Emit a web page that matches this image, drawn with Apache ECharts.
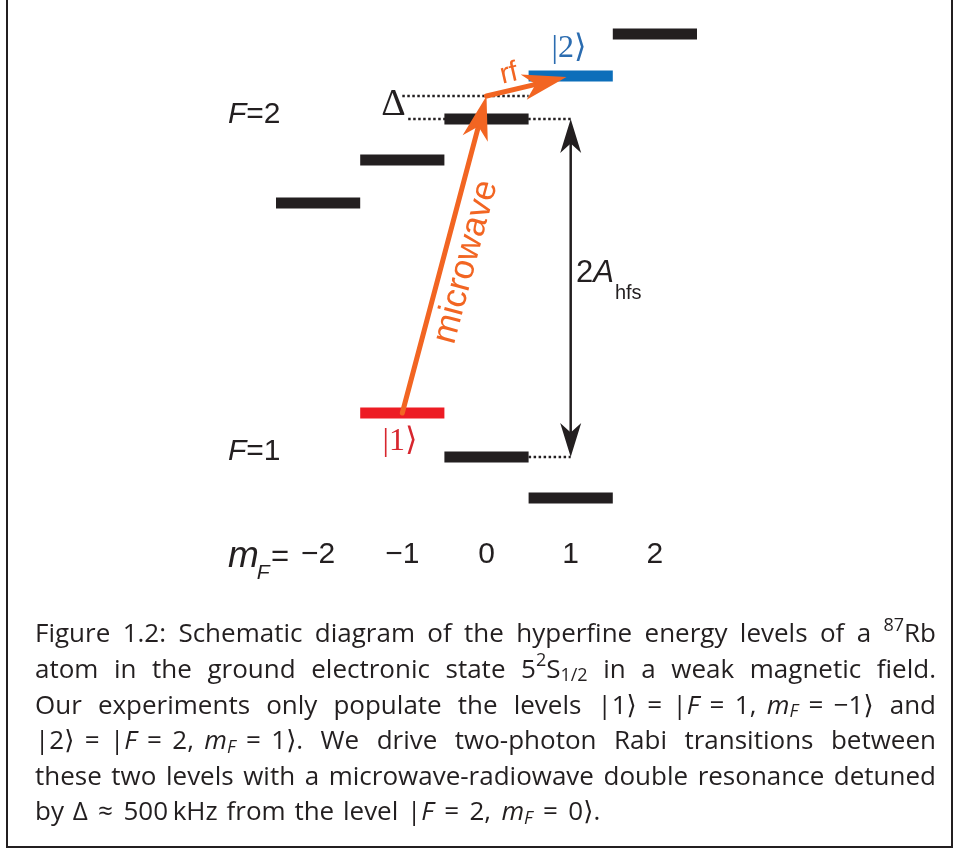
<!DOCTYPE html>
<html>
<head>
<meta charset="utf-8">
<script src="https://cdn.jsdelivr.net/npm/echarts@6/dist/echarts.min.js"></script>
<style>
  html, body { margin: 0; padding: 0; background: #fff; }
  #main { width: 960px; height: 852px; }
</style>
</head>
<body>
<div id="main"></div>
<script>
// m_F values (x axis ticks)
var mFValues = [-2, -1, 0, 1, 2]
// F=2 sublevel energies (arb. units), mF = -2..2
var f2Energy = [63.4, 72.0, 80.2, 88.8, 97.2]
// F=1 sublevels
var f1mF = [-1, 0, 1]
var f1Energy = [21.4, 12.6, 4.4]
// virtual level of the two-photon transition (Δ above F=2, mF=0)
var virtualLevel = 84.8
var state1 = [-1, 21.4] // |1> = |F=1, mF=-1>
var state2 = [1, 88.8]  // |2> = |F=2, mF=1>
var rfEnd = [0.95, 88.6]

// dotted guide lines [x1, y1, x2, y2]
var dottedData = [
  [-1, virtualLevel, 0.5, virtualLevel],
  [-0.93, f2Energy[2], 1, f2Energy[2]],
  [0.5, f1Energy[1], 1, f1Energy[1]]
]
// arrows [x1, y1, x2, y2, style, double-headed]
var arrowData = [
  [state1[0], state1[1], 0, virtualLevel, 0, 0],        // microwave
  [0, virtualLevel, rfEnd[0], rfEnd[1], 0, 0],          // rf
  [1, f2Energy[2], 1, f1Energy[1], 1, 1]                // 2A_hfs
]

var captionLines = [
  'Figure 1.2: Schematic diagram of the hyperfine energy levels of a {sup:87}Rb',
  'atom in the ground electronic state 5{sup:2}S{sub:1/2} in a weak magnetic field.',
  'Our experiments only populate the levels |1⟩~=~|{i:F}~=~1,~{i:m}{isub:F}~=~−1⟩ and',
  '|2⟩~=~|{i:F}~=~2,~{i:m}{isub:F}~=~1⟩.  We drive two-photon Rabi transitions between',
  'these two levels with a microwave-radiowave double resonance detuned',
  'by Δ~≈~500`kHz from the level |{i:F}~=~2,~{i:m}{isub:F}~=~0⟩.'
]

var levelColors = ['#231F20', '#ED1C24', '#0C6EBA']
var orange = '#F26522'
var levelData = []
mFValues.forEach(function (m, i) { levelData.push([m, f2Energy[i], m === state2[0] ? 2 : 0]) })
f1mF.forEach(function (m, i) { levelData.push([m, f1Energy[i], m === state1[0] ? 1 : 0]) })

var arrowStyles = [
  { color: orange, width: 5, L: 44, W: 13 },
  { color: '#231F20', width: 2.5, L: 34, W: 10.5 }
]

var sansFam = "'Liberation Sans', Arial, sans-serif"
var serifFam = "'Liberation Serif', 'DejaVu Serif', serif"
var capFam = "'Open Sans', 'DejaVu Sans', sans-serif"

// ---- text helpers (segments with sub/superscripts)
var ctx = document.createElement('canvas').getContext('2d')
var kinds = {
  n: { s: 1, dy: 0 },
  i: { s: 1, dy: 0, it: true },
  sup: { s: 0.68, dy: -0.36 },
  sub: { s: 0.68, dy: 0.22 },
  isub: { s: 0.68, dy: 0.22, it: true },
  low: { s: 0.7, dy: 0.55, it: true },
  hfs: { s: 0.68, dy: 0.7 }
}
function fontOf(size, italic, family) {
  return (italic ? 'italic ' : '') + size + 'px ' + family
}
function parseWord(w) {
  var segs = [], re = /\{(\w+):([^}]*)\}|([^{]+)/g, m
  while ((m = re.exec(w))) {
    if (m[1]) segs.push([m[2], m[1]])
    else m[3].split(/([~`])/).forEach(function (t) {
      if (t === '~') segs.push(['', 'gap'])
      else if (t === '`') segs.push(['', 'thin'])
      else if (t) segs.push([t, 'n'])
    })
  }
  return segs
}
function segWidth(seg, size, family) {
  if (seg[1] === 'gap') return size * 0.4
  if (seg[1] === 'thin') return size * 0.18
  var k = kinds[seg[1]]
  ctx.font = fontOf(Math.round(size * k.s), k.it, family)
  return ctx.measureText(seg[0]).width
}
function segsWidth(segs, size, family) {
  return segs.reduce(function (s, g) { return s + segWidth(g, size, family) }, 0)
}
function placeSegs(out, segs, x, y, size, family, color) {
  segs.forEach(function (seg) {
    var w = segWidth(seg, size, family)
    if (kinds[seg[1]]) {
      var k = kinds[seg[1]]
      out.push({
        type: 'text', x: x, y: y + k.dy * size, silent: true,
        style: { text: seg[0], font: fontOf(Math.round(size * k.s), k.it, family), fill: color, align: 'left', verticalAlign: 'middle' }
      })
    }
    x += w
  })
  return x
}

var graphics = []
// frame
graphics.push({ type: 'rect', silent: true, shape: { x: 7, y: -10, width: 945, height: 857 }, style: { fill: 'none', stroke: '#231F20', lineWidth: 2 } })

// caption, justified
var capLeft = 35, capRight = 936, capSize = 26
captionLines.forEach(function (line, li) {
  var words = line.split(' ').filter(function (w) { return w.length }).map(parseWord)
  var widths = words.map(function (s) { return segsWidth(s, capSize, capFam) })
  var total = widths.reduce(function (a, b) { return a + b }, 0)
  ctx.font = fontOf(capSize, false, capFam)
  var space = ctx.measureText(' ').width
  var gap = li === captionLines.length - 1 ? space * 1.3 : (capRight - capLeft - total) / (words.length - 1)
  var size = capSize
  if (gap < space * 0.9) {
    // too long: shrink slightly to fit
    size = capSize * (capRight - capLeft - space * 0.9 * (words.length - 1)) / total
    widths = words.map(function (s) { return segsWidth(s, size, capFam) })
    total = widths.reduce(function (a, b) { return a + b }, 0)
    gap = (capRight - capLeft - total) / (words.length - 1)
  }
  var x = capLeft, y = 635 + li * 35.6
  words.forEach(function (s, wi) {
    placeSegs(graphics, s, x, y, size, capFam, '#231F20')
    x += widths[wi] + gap
  })
})

// diagram labels
placeSegs(graphics, parseWord('{i:F}=2'), 228, 115, 30, sansFam, '#231F20')
placeSegs(graphics, parseWord('{i:F}=1'), 228, 452, 30, sansFam, '#231F20')
var afterM = placeSegs(graphics, parseWord('{i:m}'), 228, 557, 37, sansFam, '#231F20')
placeSegs(graphics, parseWord('{low:F}'), afterM - 2, 557, 30, sansFam, '#231F20')
var eqSeg = parseWord('=')
placeSegs(graphics, eqSeg, 289 - segsWidth(eqSeg, 31, sansFam), 557, 31, sansFam, '#231F20')
var afterA = placeSegs(graphics, parseWord('2{i:A}'), 576, 273, 31, sansFam, '#231F20')
placeSegs(graphics, parseWord('{hfs:hfs}'), afterA + 1, 273, 29, sansFam, '#231F20')

graphics.push({ type: 'text', x: 393.5, y: 105, silent: true, style: { text: 'Δ', font: fontOf(38, false, serifFam), fill: '#231F20', align: 'center', verticalAlign: 'middle' } })
graphics.push({ type: 'text', x: 569, y: 49, silent: true, style: { text: '|2⟩', font: fontOf(32, false, serifFam), fill: '#2B6CB0', align: 'center', verticalAlign: 'middle' } })
graphics.push({ type: 'text', x: 400, y: 442, silent: true, style: { text: '|1⟩', font: fontOf(32, false, serifFam), fill: '#D7262E', align: 'center', verticalAlign: 'middle' } })
graphics.push({ type: 'text', x: 509, y: 74, rotation: 13 * Math.PI / 180, silent: true, style: { text: 'rf', font: fontOf(29, false, sansFam), fill: orange, align: 'center', verticalAlign: 'middle' } })
graphics.push({ type: 'text', x: 466, y: 262, rotation: 75 * Math.PI / 180, silent: true, style: { text: 'microwave', font: fontOf(35, false, sansFam), fill: orange, align: 'center', verticalAlign: 'middle' } })

// ---- series renderers
function renderLevel(params, api) {
  var a = api.coord([api.value(0) - 0.5, api.value(1)])
  var b = api.coord([api.value(0) + 0.5, api.value(1)])
  return { type: 'rect', shape: { x: a[0], y: a[1] - 5.5, width: b[0] - a[0], height: 11 }, style: { fill: levelColors[api.value(2)] } }
}
function renderDotted(params, api) {
  var a = api.coord([api.value(0), api.value(1)])
  var b = api.coord([api.value(2), api.value(3)])
  return { type: 'line', shape: { x1: a[0], y1: a[1], x2: b[0], y2: b[1] }, style: { stroke: '#231F20', lineWidth: 2.5, lineDash: [2.5, 2.5] } }
}
function head(tip, u, L, W) {
  var nx = -u[1], ny = u[0]
  var bx = tip[0] - u[0] * L, by = tip[1] - u[1] * L
  var kx = tip[0] - u[0] * L * 0.72, ky = tip[1] - u[1] * L * 0.72
  return { pts: [[tip[0], tip[1]], [bx + nx * W, by + ny * W], [kx, ky], [bx - nx * W, by - ny * W]], notch: [kx, ky] }
}
function renderArrow(params, api) {
  var a = api.coord([api.value(0), api.value(1)])
  var b = api.coord([api.value(2), api.value(3)])
  var st = arrowStyles[api.value(4)]
  var dx = b[0] - a[0], dy = b[1] - a[1], len = Math.sqrt(dx * dx + dy * dy)
  var u = [dx / len, dy / len]
  var children = []
  var h2 = head(b, u, st.L, st.W)
  var start = a
  if (api.value(5)) {
    var h1 = head(a, [-u[0], -u[1]], st.L, st.W)
    start = h1.notch
    children.push({ type: 'polygon', shape: { points: h1.pts }, style: { fill: st.color } })
  }
  children.unshift({ type: 'line', shape: { x1: start[0], y1: start[1], x2: h2.notch[0], y2: h2.notch[1] }, style: { stroke: st.color, lineWidth: st.width, lineCap: 'round' } })
  children.push({ type: 'polygon', shape: { points: h2.pts }, style: { fill: st.color } })
  return { type: 'group', children: children }
}

var chart = echarts.init(document.getElementById('main'), null, { renderer: 'canvas' })
chart.setOption({
  animation: false,
  backgroundColor: '#fff',
  grid: { left: 276, top: 20, width: 421, height: 500, show: false, outerBoundsMode: 'none' },
  xAxis: {
    type: 'value', min: -2.5, max: 2.5,
    axisLine: { show: false }, axisTick: { show: false }, splitLine: { show: false },
    axisLabel: {
      customValues: mFValues,
      formatter: function (v) { return v < 0 ? '\u2212' + (-v) : String(v) },
      fontSize: 30, fontFamily: sansFam, color: '#231F20', margin: 20, lineHeight: 30
    }
  },
  yAxis: { type: 'value', min: 0, max: 100, show: false },
  series: [
    { type: 'custom', renderItem: renderDotted, data: dottedData, encode: { x: [0, 2], y: [1, 3] }, silent: true },
    { type: 'custom', renderItem: renderLevel, data: levelData, encode: { x: 0, y: 1 }, silent: true },
    { type: 'custom', renderItem: renderArrow, data: arrowData, encode: { x: [0, 2], y: [1, 3] }, silent: true }
  ],
  graphic: { elements: graphics }
})
</script>
</body>
</html>
